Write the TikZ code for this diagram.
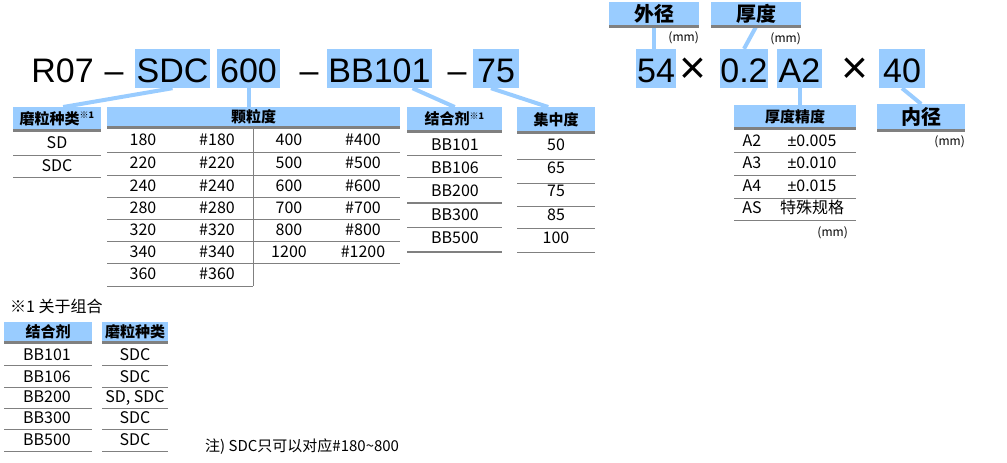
\documentclass[tikz,border=0pt]{standalone}
\usepackage{fontspec}
\setmainfont{Noto Sans CJK SC}
\newfontfamily\codefont{Liberation Sans}
\usetikzlibrary{positioning}
\definecolor{hdrblue}{HTML}{99CCFF}
\definecolor{rulegray}{HTML}{808080}

\begin{document}
\begin{tikzpicture}[x=1pt, y=-1pt,
  code/.style={fill=hdrblue, inner sep=0pt, minimum height=39pt,
    font=\codefont\fontsize{34}{34}\selectfont, text height=27pt, text depth=0pt},
  plain/.style={code, fill=none},
  times/.style={inner sep=0pt, font=\codefont\fontsize{46}{46}\selectfont},
  hdr/.style={fill=hdrblue, inner sep=0pt, anchor=north west, minimum height=23pt,
    font=\fontsize{15}{15}\selectfont\bfseries, text height=11pt, text depth=0pt},
  bighdr/.style={hdr, font=\fontsize{20}{20}\selectfont\bfseries, text height=15pt},
  cell/.style={inner sep=0pt, font=\fontsize{16}{16}\selectfont, text height=11.5pt, text depth=0pt},
  unit/.style={inner sep=0pt, font=\fontsize{12}{12}\selectfont},
  link/.style={draw=hdrblue, line width=4pt},
  hrule/.style={draw=rulegray, line width=3pt},
  mrule/.style={draw=rulegray, line width=2pt},
  trule/.style={draw=rulegray, line width=1pt}]
  \useasboundingbox (0,0) rectangle (1007,463);

  % model code
  \node[plain] (r07) at (62.5,68.5) {R07};
  \node[plain] (d1) at (114,68.5) {–};
  \node[code, minimum width=75pt] (sdc) at (172.5,68.5) {SDC};
  \node[code, minimum width=63pt] (g600) at (248.5,68.5) {600};
  \node[plain] (d2) at (309,68.5) {–};
  \node[code, minimum width=105pt] (bb) at (379.5,68.5) {BB101};
  \node[plain] (d3) at (457,68.5) {–};
  \node[code, minimum width=46pt] (c75) at (496,68.5) {75};
  \node[code, minimum width=40pt] (od) at (656,68.5) {54};
  \node[times] (x1) at (693,71) {×};
  \node[code, minimum width=46pt] (th) at (744,68.5) {0.2};
  \node[code, minimum width=45pt] (acc) at (799.5,68.5) {A2};
  \node[times] (x2) at (855,71) {×};
  \node[code, minimum width=46pt] (id) at (902,68.5) {40};

  % headers
  \node[bighdr, minimum width=90pt, minimum height=24pt] (odh) at (609,2) {外径};
  \node[bighdr, minimum width=90pt, minimum height=24pt] (thh) at (711,2) {厚度};
  \node[unit, anchor=east] (odu) at (699,38) {(mm)};
  \node[unit, anchor=east] (thu) at (801,39) {(mm)};
  \node[hdr, minimum width=88pt, minimum height=23pt] (gt) at (13,107) {磨粒种类\textsuperscript{\fontsize{9}{9}\selectfont ※1}};
  \node[hdr, minimum width=293pt, minimum height=20.5pt] (grh) at (107,107) {颗粒度};
  \node[hdr, minimum width=95pt, minimum height=24pt] (bh) at (407,107) {结合剂\textsuperscript{\fontsize{9}{9}\selectfont ※1}};
  \node[hdr, minimum width=78pt, minimum height=25pt] (ch) at (517,107) {集中度};
  \node[hdr, minimum width=122pt, minimum height=23.5pt] (tah) at (734,105) {厚度精度};
  \node[bighdr, minimum width=88pt, minimum height=26pt] (idh) at (877,104) {内径};
  \node[unit, anchor=east] (idu) at (965,142) {(mm)};

  % links
  \draw[link] (sdc.south) -- ([xshift=6pt]gt.north);
  \draw[link] (g600.south) -- (g600.south |- grh.north);
  \draw[link] ([xshift=33pt]bb.south) -- (bh.north);
  \draw[link] ([xshift=-5pt]c75.south) -- ([xshift=-8pt]ch.north);
  \draw[link] (odh.south) -- (odh.south |- od.north);
  \draw[link] (thh.south) -- (th.north);
  \draw[link] (acc.south) -- (acc.south |- tah.north);
  \draw[link] (id.south) -- (idh.north);

  \foreach \h in {odh,thh,gt,grh,bh,ch,tah,idh}
    \draw[hrule] (\h.south west) -- (\h.south east);

  % grinding type
  \node[cell] (sd) at (57,143) {SD};
  \node[cell] (sdc1) at (57,166) {SDC};
  \foreach \y in {155,177} \draw[trule] (13,\y) -- (101,\y);

  % grit size
  \foreach \v/\y [count=\i] in {180/140,220/163,240/186,280/208,320/230,340/252,360/274} {
    \node[cell] (ga\i) at (143,\y) {\v};
    \node[cell] (gb\i) at (217,\y) {\#\v};
  }
  \foreach \v/\y [count=\i] in {400/140,500/163,600/186,700/208,800/230,1200/252} {
    \node[cell] (gc\i) at (289,\y) {\v};
    \node[cell] (gd\i) at (363,\y) {\#\v};
  }
  \foreach \y in {152,175,197,219,241,263} \draw[trule] (107,\y) -- (400,\y);
  \draw[trule] (107,286) -- (253,286);
  \draw[trule] (253,127.5) -- (253,286);

  % bond
  \foreach \v/\y [count=\i] in {BB101/145,BB106/168,BB200/191,BB300/215,BB500/238}
    \node[cell] (b\i) at (455,\y) {\v};
  \foreach \y in {155,177,227} \draw[trule] (407,\y) -- (502,\y);
  \foreach \y in {203,252} \draw[mrule] (407,\y) -- (502,\y);

  % concentration
  \foreach \v/\y [count=\i] in {50/145,65/168,75/191,85/215,100/238}
    \node[cell] (k\i) at (556,\y) {\v};
  \foreach \y in {159,183,206,228,252} \draw[trule] (517,\y) -- (595,\y);

  % thickness tolerance
  \foreach \a/\t/\y [count=\i] in {A2/{\codefont±}0.005/141,A3/{\codefont±}0.010/163,A4/{\codefont±}0.015/186,AS/特殊规格/208} {
    \node[cell] (ta\i) at (752,\y) {\a};
    \node[cell] (tb\i) at (812,\y) {\t};
  }
  \foreach \y in {152,175,198,220} \draw[trule] (734,\y) -- (856,\y);
  \node[unit, anchor=east] (tau) at (848,233) {(mm)};

  % combinations
  \node[cell, anchor=west] (note1) at (10,307) {※1 关于组合};
  \node[hdr, minimum width=88pt, minimum height=20.5pt] (cbh) at (4,322) {结合剂};
  \node[hdr, minimum width=66pt, minimum height=20.5pt] (cgh) at (102,322) {磨粒种类};
  \foreach \h in {cbh,cgh} \draw[hrule] (\h.south west) -- (\h.south east);
  \foreach \b/\g/\y [count=\i] in {BB101/SDC/355,BB106/SDC/377,BB200/{SD, SDC}/397,BB300/SDC/418,BB500/SDC/440} {
    \node[cell] (cb\i) at (47,\y) {\b};
    \node[cell] (cg\i) at (135,\y) {\g};
  }
  \foreach \y in {365,387,408,429,451} {
    \draw[trule] (4,\y) -- (92,\y);
    \draw[trule] (102,\y) -- (168,\y);
  }
  \node[cell, anchor=west, font=\fontsize{15}{15}\selectfont] (note2) at (205,446) {注)\ SDC只可以对应\#180\textasciitilde800};
\end{tikzpicture}
\end{document}
